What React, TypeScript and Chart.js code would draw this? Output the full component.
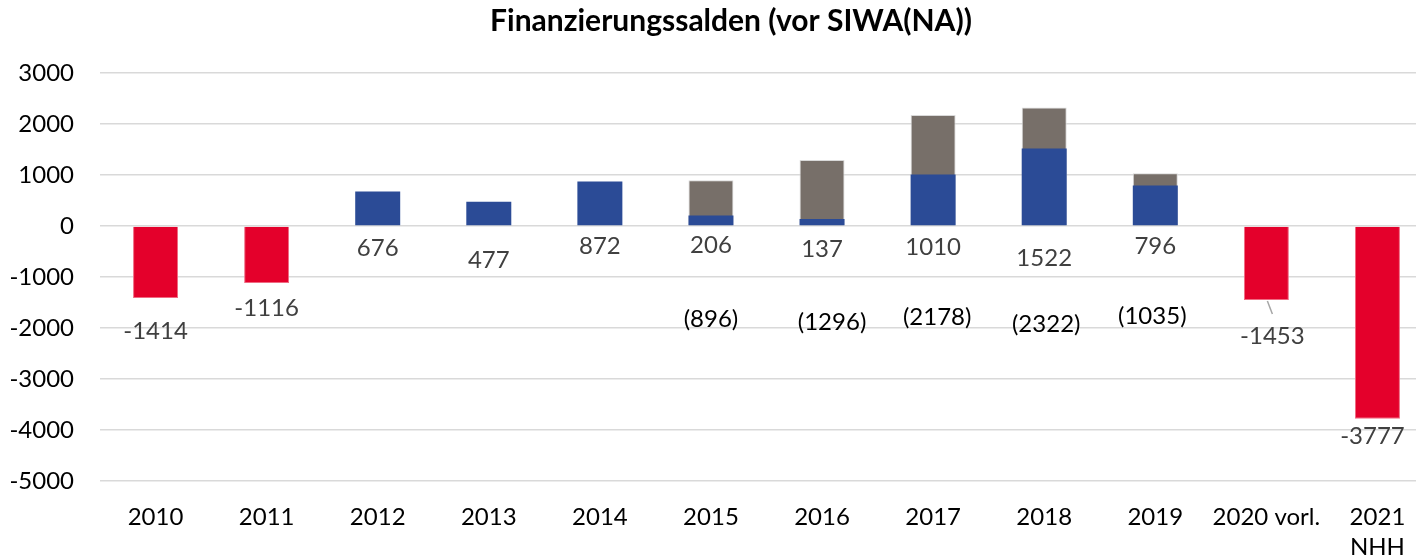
import React, { useEffect, useRef } from "react";
import { Chart, registerables } from "chart.js";

Chart.register(...registerables);

const categories: (string | string[])[] = [
  "2010", "2011", "2012", "2013", "2014", "2015", "2016", "2017", "2018", "2019", "2020 vorl.", ["2021", "NHH"],
];
const negativeSaldo: (number | null)[] = [-1414, -1116, null, null, null, null, null, null, null, null, -1453, -3777];
const positiveSaldo: (number | null)[] = [null, null, 676, 477, 872, 206, 137, 1010, 1522, 796, null, null];
const totalSaldo: (number | null)[] = [null, null, null, null, null, 896, 1296, 2178, 2322, 1035, null, null];
const yMin = -5000;
const yMax = 3000;
const yStep = 1000;

// label layout nudges in pixels (dx, dy)
const positiveLabelNudge: [number, number][] = [
  [0, 0], [0, 0], [0, 22], [0, 34], [0, 20], [0, 19], [0, 23], [0, 21], [0, 32], [0, 20], [0, 0], [0, 0],
];
const totalLabelNudge: [number, number][] = [
  [0, 0], [0, 0], [0, 0], [0, 0], [0, 0], [0, 93], [10, 96], [4, 91], [2, 98], [-3, 90], [0, 0], [0, 0],
];
const negativeLabelNudge: [number, number][] = [
  [0, 33], [0, 25], [0, 0], [0, 0], [0, 0], [0, 0], [0, 0], [0, 0], [0, 0], [0, 0], [6, 36], [-5, 18],
];

const FONT = "Lato, 'Open Sans', sans-serif";
const LABEL_SIZE = 24;

const labelPlugin = {
  id: "saldoLabels",
  afterDatasetsDraw(chart: any) {
    const ctx = chart.ctx;
    const yScale = chart.scales.y;
    const zeroY = yScale.getPixelForValue(0);
    ctx.save();
    ctx.font = `${LABEL_SIZE}px ${FONT}`;
    ctx.textAlign = "center";
    ctx.textBaseline = "middle";

    const posMeta = chart.getDatasetMeta(0);
    const totMeta = chart.getDatasetMeta(1);
    const negMeta = chart.getDatasetMeta(2);

    positiveSaldo.forEach((v, i) => {
      if (v == null) return;
      const el = posMeta.data[i];
      const [dx, dy] = positiveLabelNudge[i];
      ctx.fillStyle = "#404040";
      ctx.fillText(String(v), el.x + dx, zeroY + dy);
    });
    totalSaldo.forEach((v, i) => {
      if (v == null) return;
      const el = totMeta.data[i];
      const [dx, dy] = totalLabelNudge[i];
      ctx.fillStyle = "#000000";
      ctx.fillText(`(${v})`, el.x + dx, zeroY + dy);
    });
    negativeSaldo.forEach((v, i) => {
      if (v == null) return;
      const el = negMeta.data[i];
      const [dx, dy] = negativeLabelNudge[i];
      ctx.fillStyle = "#404040";
      ctx.fillText(String(v), el.x + dx, el.y + dy);
      if (dx > 3) {
        ctx.strokeStyle = "#a6a6a6";
        ctx.lineWidth = 1.5;
        ctx.beginPath();
        ctx.moveTo(el.x + 1, el.y + 1);
        ctx.lineTo(el.x + dx, el.y + dy - 22);
        ctx.stroke();
      }
    });
    ctx.restore();
  },
};

export default function App() {
  const canvasRef = useRef<HTMLCanvasElement | null>(null);

  useEffect(() => {
    if (!canvasRef.current) return;
    const chart = new Chart(canvasRef.current, {
      type: "bar",
      data: {
        labels: categories as any,
        datasets: [
          {
            label: "Saldo",
            data: positiveSaldo,
            backgroundColor: "#2B4B96",
            borderWidth: 0,
            order: 0,
            grouped: false,
          },
          {
            label: "Gesamt",
            data: totalSaldo,
            backgroundColor: "#776F69",
            borderColor: "#d9d9d9",
            borderWidth: 1,
            order: 1,
            grouped: false,
          },
          {
            label: "Defizit",
            data: negativeSaldo,
            backgroundColor: "#E4002B",
            borderColor: "#ef6a82",
            borderWidth: 1,
            order: 2,
            grouped: false,
          },
        ] as any,
      },
      options: {
        responsive: false,
        animation: false,
        layout: { padding: 0 },
        datasets: {
          bar: { barPercentage: 0.405, categoryPercentage: 1 },
        } as any,
        plugins: {
          legend: { display: false },
          tooltip: { enabled: false },
          title: {
            display: true,
            text: "Finanzierungssalden (vor SIWA(NA))",
            color: "#000000",
            font: { family: FONT, size: 30, weight: "bold", lineHeight: 1.2 },
            padding: { top: 3, bottom: 34 },
          },
        },
        scales: {
          x: {
            grid: { display: false, drawTicks: false },
            border: { display: false },
            ticks: {
              color: "#000000",
              font: { family: FONT, size: LABEL_SIZE, lineHeight: 1.25 },
              padding: 21,
              maxRotation: 0,
              autoSkip: false,
            },
            afterFit: (s: any) => {
              s.height = 76;
            },
          },
          y: {
            min: yMin,
            max: yMax,
            grid: { color: "#d9d9d9", lineWidth: 1.5, drawTicks: false },
            border: { display: false },
            ticks: {
              stepSize: yStep,
              color: "#000000",
              font: { family: FONT, size: LABEL_SIZE },
              padding: 26,
              callback: (v: any) => String(v),
            },
            afterFit: (s: any) => {
              s.width = 100;
            },
          },
          yRightSpacer: {
            type: "linear",
            position: "right",
            display: true,
            grid: { display: false, drawTicks: false },
            border: { display: false },
            ticks: { display: false },
            afterFit: (s: any) => {
              s.width = 29;
            },
          } as any,
        },
      },
      plugins: [labelPlugin],
    });
    return () => chart.destroy();
  }, []);

  return (
    <div
      style={{
        position: "fixed",
        left: 0,
        top: 0,
        width: 1416,
        height: 557,
        overflow: "hidden",
        background: "#ffffff",
      }}
    >
      <canvas ref={canvasRef} width={1462} height={557} style={{ display: "block" }} />
    </div>
  );
}
